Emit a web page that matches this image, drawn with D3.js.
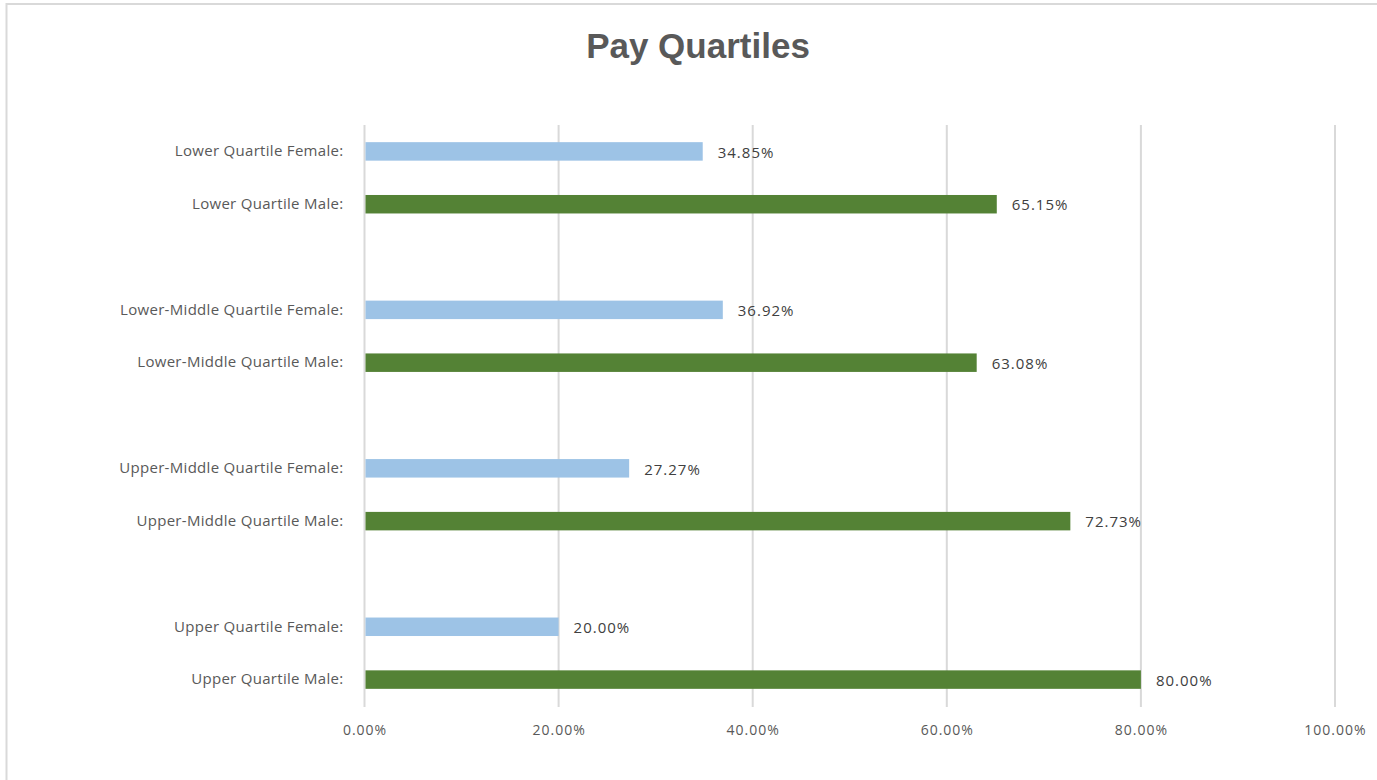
<!DOCTYPE html>
<html>
<head>
<meta charset="utf-8">
<script src="https://cdn.jsdelivr.net/npm/d3@7"></script>
<style>
  body { margin: 0; background: #fff; }
  text { font-family: "Open Sans", "Liberation Sans", sans-serif; }
</style>
</head>
<body>
<div id="container"></div>
<script>
/* DATA */
// rows top to bottom, "" = empty spacer row between quartiles
const categories = [
  "Lower Quartile Female:", "Lower Quartile Male:", "",
  "Lower-Middle Quartile Female:", "Lower-Middle Quartile Male:", "",
  "Upper-Middle Quartile Female:", "Upper-Middle Quartile Male:", "",
  "Upper Quartile Female:", "Upper Quartile Male:"
]
const values = [34.85, 65.15, null, 36.92, 63.08, null, 27.27, 72.73, null, 20.00, 80.00]
const series = ["Female", "Male", null, "Female", "Male", null, "Female", "Male", null, "Female", "Male"]
const xTicks = [0, 20, 40, 60, 80, 100]

/* CONSTANTS */
const width = 1377,
  height = 780,
  margin = { top: 125, bottom: 74, left: 364.5, right: 42 }

const rows = categories.map((c, i) => ({ key: i, label: c, value: values[i], series: series[i] }))

const svg = d3.select("#container")
  .append("svg")
  .attr("width", width)
  .attr("height", height)

// chart frame
svg.append("rect")
  .attr("x", 6.5)
  .attr("y", 4)
  .attr("width", 1500)
  .attr("height", 900)
  .attr("fill", "#fff")
  .attr("stroke", "#d9d9d9")
  .attr("stroke-width", 2)

const xScale = d3.scaleLinear()
  .domain([0, 100])
  .range([margin.left, width - margin.right])

const yScale = d3.scaleBand()
  .domain(rows.map(d => d.key))
  .range([margin.top, height - margin.bottom])
  .paddingInner(0.65)
  .paddingOuter(0.325)

const colorScale = d3.scaleOrdinal()
  .domain(["Female", "Male"])
  .range(["#9dc3e6", "#548235"])

// gridlines
svg.append("g")
  .selectAll("line")
  .data(xTicks)
  .join("line")
  .attr("x1", d => xScale(d))
  .attr("x2", d => xScale(d))
  .attr("y1", margin.top)
  .attr("y2", height - margin.bottom + 1)
  .attr("stroke", "#d9d9d9")
  .attr("stroke-width", 2)

// x axis labels
const xAxis = d3.axisBottom(xScale)
  .tickValues(xTicks)
  .tickSize(0)
  .tickPadding(14)
  .tickFormat(d => d.toFixed(2) + "%")
svg.append("g")
  .attr("class", "x-axis")
  .attr("transform", `translate(0, ${height - margin.bottom + 5})`)
  .call(xAxis)
  .call(g => g.select(".domain").remove())
  .call(g => g.selectAll("text")
    .attr("fill", "#595959")
    .attr("font-size", "14px")
    .attr("letter-spacing", "1px")
    .style("font-family", "'Open Sans', 'Liberation Sans', sans-serif"))

// y axis labels
const yAxis = d3.axisLeft(yScale)
  .tickSize(0)
  .tickPadding(21)
  .tickFormat(k => categories[k])
svg.append("g")
  .attr("class", "y-axis")
  .attr("transform", `translate(${margin.left}, 0)`)
  .call(yAxis)
  .call(g => g.select(".domain").remove())
  .call(g => g.selectAll("text")
    .attr("fill", "#595959")
    .attr("font-size", "15px")
    .attr("letter-spacing", "0.3px")
    .style("font-family", "'Open Sans', 'Liberation Sans', sans-serif"))

const data = rows.filter(d => d.value != null)

// bars
svg.selectAll("rect.bar")
  .data(data)
  .join("rect")
  .attr("class", "bar")
  .attr("x", xScale(0) + 1)
  .attr("y", d => yScale(d.key))
  .attr("width", d => xScale(d.value) - xScale(0) - 1)
  .attr("height", yScale.bandwidth())
  .attr("fill", d => colorScale(d.series))

// value labels
svg.selectAll("text.value")
  .data(data)
  .join("text")
  .attr("class", "value")
  .attr("x", d => xScale(d.value) + 15)
  .attr("y", d => yScale(d.key) + yScale.bandwidth() / 2 + 1)
  .attr("dy", "0.35em")
  .attr("fill", "#404040")
  .attr("font-size", "15px")
  .attr("letter-spacing", "1px")
  .text(d => d.value.toFixed(2) + "%")

// title
svg.append("text")
  .attr("class", "title")
  .attr("x", 698)
  .attr("y", 58)
  .attr("text-anchor", "middle")
  .attr("fill", "#595959")
  .attr("font-size", "35px")
  .attr("font-weight", "bold")
  .style("font-family", "'Liberation Sans', Arial, sans-serif")
  .text("Pay Quartiles")
</script>
</body>
</html>
